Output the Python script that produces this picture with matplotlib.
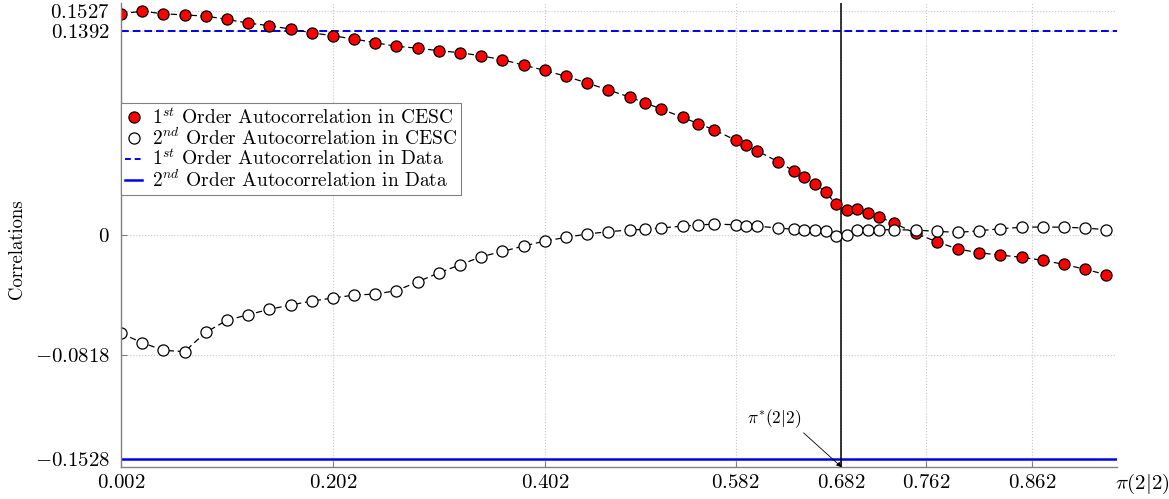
import numpy as np
import matplotlib
matplotlib.use("Agg")
import matplotlib.pyplot as plt
from matplotlib.lines import Line2D

plt.rcParams['font.family'] = 'serif'
plt.rcParams['font.serif'] = ['cmr10', 'DejaVu Serif']
plt.rcParams['mathtext.fontset'] = 'cm'
plt.rcParams['axes.formatter.use_mathtext'] = True

# data
pi_grid = [0.002, 0.022, 0.042, 0.062, 0.082, 0.102, 0.122, 0.142, 0.162, 0.182,
           0.202, 0.222, 0.242, 0.262, 0.282, 0.302, 0.322, 0.342, 0.362, 0.382,
           0.402, 0.422, 0.442, 0.462, 0.482, 0.497, 0.512, 0.532, 0.547, 0.562,
           0.582, 0.592, 0.602, 0.622, 0.637, 0.647, 0.657, 0.667, 0.677, 0.687,
           0.697, 0.707, 0.717, 0.732, 0.752, 0.772, 0.792, 0.812, 0.832, 0.852,
           0.872, 0.892, 0.912, 0.932]
ac1_cesc = [0.1512, 0.1527, 0.1511, 0.1502, 0.1495, 0.1472, 0.1447, 0.1429, 0.1406, 0.1381,
            0.1360, 0.1338, 0.1313, 0.1288, 0.1276, 0.1258, 0.1245, 0.1223, 0.1197, 0.1160,
            0.1124, 0.1083, 0.1038, 0.0990, 0.0942, 0.0901, 0.0860, 0.0803, 0.0760, 0.0717,
            0.0648, 0.0612, 0.0576, 0.0501, 0.0437, 0.0396, 0.0350, 0.0292, 0.0211, 0.0173,
            0.0178, 0.0153, 0.0125, 0.0080, 0.0011, -0.0046, -0.0096, -0.0121, -0.0137, -0.0152,
            -0.0173, -0.0200, -0.0234, -0.0271]
ac2_cesc = [-0.0671, -0.0735, -0.0787, -0.0796, -0.0664, -0.0582, -0.0544, -0.0507, -0.0478, -0.0451,
            -0.0430, -0.0410, -0.0403, -0.0380, -0.0319, -0.0259, -0.0203, -0.0148, -0.0112, -0.0075,
            -0.0041, -0.0016, 0.0007, 0.0023, 0.0034, 0.0039, 0.0048, 0.0061, 0.0068, 0.0075,
            0.0070, 0.0064, 0.0061, 0.0048, 0.0039, 0.0035, 0.0033, 0.0026, -0.0005, 0.0002,
            0.0032, 0.0034, 0.0036, 0.0036, 0.0034, 0.0025, 0.0018, 0.0029, 0.0043, 0.0053,
            0.0055, 0.0053, 0.0048, 0.0036]
ac1_data = 0.1392
ac2_data = -0.1528
pi_star = 0.682

xticks = [0.002, 0.202, 0.402, 0.582, 0.682, 0.762, 0.862]
xtick_labels = ['0.002', '0.202', '0.402', '0.582', '0.682', '0.762', '0.862']
yticks = [-0.1528, -0.0818, 0, 0.1392, 0.1527]
ytick_labels = ['-0.1528', '-0.0818', '0', '0.1392', '0.1527']

fig = plt.figure(figsize=(11.69, 4.99), dpi=100)
ax = fig.add_axes([0.1035, 0.064, 0.852, 0.930])

ax.set_xlim(0.002, 0.942)
ax.set_ylim(-0.1584, 0.1584)

# grid
ax.set_xticks(xticks)
ax.set_yticks(yticks)
ax.grid(True, color='#c8c8c8', linestyle=':', linewidth=0.8)
ax.set_axisbelow(True)

# reference lines
ax.axhline(ac1_data, color='#0000ee', linestyle='--', linewidth=1.4, dashes=(4, 2))
ax.axhline(ac2_data, color='#0000ee', linestyle='-', linewidth=1.8)
ax.axvline(pi_star, color='black', linewidth=1.1)

# CESC series
ax.plot(pi_grid, ac1_cesc, color='black', linestyle='--', dashes=(5, 3), linewidth=0.9,
        marker='o', markersize=8, markerfacecolor='red', markeredgecolor='black',
        markeredgewidth=0.9)
ax.plot(pi_grid, ac2_cesc, color='black', linestyle='--', dashes=(5, 3), linewidth=0.9,
        marker='o', markersize=8, markerfacecolor='white', markeredgecolor='black',
        markeredgewidth=0.9)

# ticks
ax.set_xticklabels(['$%s$' % t for t in xtick_labels], fontsize=15)
ax.set_yticklabels(['$%s$' % t for t in ytick_labels], fontsize=15)
ax.tick_params(axis='both', direction='in', color='#808080', length=4)
ax.tick_params(axis='x', pad=5)
ax.tick_params(axis='y', pad=8)

for s in ['top', 'right']:
    ax.spines[s].set_visible(False)
for s in ['left', 'bottom']:
    ax.spines[s].set_color('#808080')
    ax.spines[s].set_linewidth(1.0)

ax.set_ylabel('Correlations', fontsize=13.5)
ax.yaxis.set_label_coords(-0.095, 0.47)
ax.text(1.025, -0.037, r'$\pi(2|2)$', transform=ax.transAxes, ha='center', va='center',
        fontsize=15, clip_on=False)

# annotation
ax.annotate(r'$\pi^{*}(2|2)$', xy=(pi_star, -0.1584), xytext=(0.618, -0.1256),
            ha='center', va='center', fontsize=12.5,
            arrowprops=dict(arrowstyle='-|>', color='black', lw=0.6,
                            mutation_scale=7, shrinkA=0, shrinkB=0, relpos=(1.0, 0.0)))

# legend
handles = [
    Line2D([], [], linestyle='none', marker='o', markersize=8, markerfacecolor='red',
           markeredgecolor='black', markeredgewidth=0.9),
    Line2D([], [], linestyle='none', marker='o', markersize=8, markerfacecolor='white',
           markeredgecolor='black', markeredgewidth=0.9),
    Line2D([], [], color='#0000ee', linestyle='--', dashes=(3, 2), linewidth=1.4),
    Line2D([], [], color='#0000ee', linestyle='-', linewidth=1.8),
]
labels = [r'$1^{st}$ Order Autocorrelation in CESC',
          r'$2^{nd}$ Order Autocorrelation in CESC',
          r'$1^{st}$ Order Autocorrelation in Data',
          r'$2^{nd}$ Order Autocorrelation in Data']
leg = ax.legend(handles, labels, loc='upper left', bbox_to_anchor=(0.0, 0.784),
                borderaxespad=0, fontsize=14, handlelength=0.9, handletextpad=0.5,
                labelspacing=0.0, borderpad=0.2, fancybox=False, framealpha=1)
leg.get_frame().set_edgecolor('#808080')
leg.get_frame().set_linewidth(0.8)

fig.savefig('out.png', dpi=100)
